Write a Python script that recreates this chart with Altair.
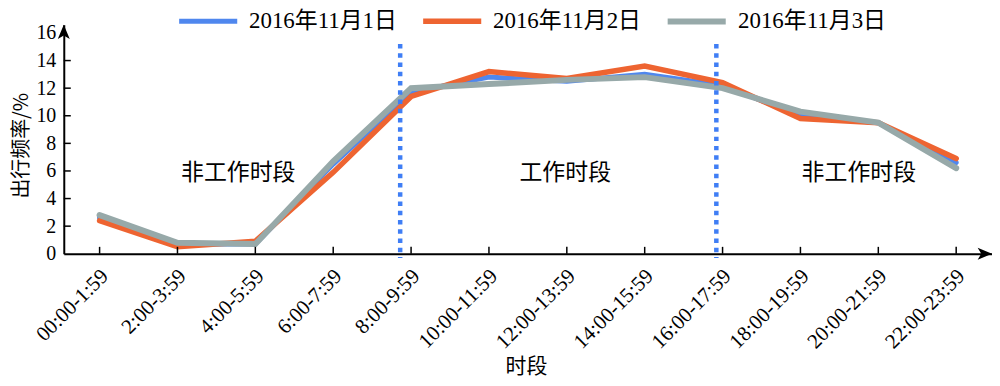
import altair as alt
import pandas as pd

slots = ["00:00-1:59", "2:00-3:59", "4:00-5:59", "6:00-7:59", "8:00-9:59", "10:00-11:59",
         "12:00-13:59", "14:00-15:59", "16:00-17:59", "18:00-19:59", "20:00-21:59", "22:00-23:59"]
series_names = ["2016年11月1日", "2016年11月2日", "2016年11月3日"]
nov1 = [2.6, 0.7, 0.7, 6.5, 11.7, 12.8, 12.5, 13.0, 12.2, 10.0, 9.5, 6.6]
nov2 = [2.4, 0.5, 0.9, 5.9, 11.4, 13.2, 12.7, 13.6, 12.4, 9.8, 9.5, 6.9]
nov3 = [2.8, 0.8, 0.7, 6.7, 12.0, 12.3, 12.6, 12.8, 12.0, 10.3, 9.5, 6.2]
colors = ["#4f87ee", "#ee6431", "#97a9a9"]
widths = [5, 6, 7]

y_ticks = [2, 4, 6, 8, 10, 12, 14]
y_labels = [0, 2, 4, 6, 8, 10, 12, 14, 16]
divider_x = [3.86, 7.92]
ann_text = ["非工作时段", "工作时段", "非工作时段"]
ann_x = [1.78, 5.98, 9.75]
ann_y = [5.85, 5.85, 5.85]

XMIN, XMAX = -0.46, 11.46
YMAX = 16.6
SERIF = "Liberation Serif, Noto Sans CJK SC"
CJK = "Noto Sans CJK SC"

rows = []
for name, vals in zip(series_names, [nov1, nov2, nov3]):
    for i, v in enumerate(vals):
        rows.append({"i": i, "v": v, "s": name})
df = pd.DataFrame(rows)

label_expr = "[" + ",".join("'%s'" % s for s in slots) + "][datum.value]"

xscale = alt.Scale(domain=[XMIN, XMAX], nice=False, zero=False)
yscale = alt.Scale(domain=[0, YMAX], nice=False)

x_axis = alt.Axis(values=list(range(12)), labelExpr=label_expr, labelAngle=315,
                  labelAlign="right", labelBaseline="middle", labelPadding=19, labelOffset=5,
                  labelFont=SERIF, labelFontSize=21, labelColor="black",
                  ticks=False, tickSize=0, grid=False, domainColor="black", domainWidth=2,
                  title="时段", titleFont=CJK, titleFontSize=21, titleFontWeight="normal",
                  titleColor="black", titleX=464, titleY=119, titleBaseline="alphabetic",
                  labelOverlap=False, labelBound=False, labelFlush=False)
y_axis = alt.Axis(values=y_labels, labelFont=SERIF, labelFontSize=20, labelColor="black",
                  labelPadding=8, ticks=False, tickSize=0, grid=False, domainColor="black",
                  domainWidth=2, title="出行频率/%", titleFont=CJK, titleFontSize=20,
                  titleFontWeight="normal", titleColor="black", titleAngle=270,
                  titleX=-42, titleY=121, titleAlign="center", titleBaseline="middle",
                  labelOverlap=False, labelFlush=False, labelBound=False)


def X(field):
    return alt.X(field, scale=xscale, axis=x_axis)


def Y(field):
    return alt.Y(field, scale=yscale, axis=y_axis)


lines = alt.Chart(df).mark_line(strokeCap="round").encode(
    x=X("i:Q"),
    y=Y("v:Q"),
    color=alt.Color("s:N", scale=alt.Scale(domain=series_names, range=colors),
                    legend=alt.Legend(title=None, orient="none", legendX=113, legendY=-36,
                                      direction="horizontal", symbolType="stroke",
                                      symbolSize=3400, symbolStrokeWidth=6,
                                      labelFont=SERIF, labelFontSize=23, labelColor="black",
                                      labelOffset=9, columnPadding=14, padding=0)),
    strokeWidth=alt.StrokeWidth("s:N", scale=alt.Scale(domain=series_names, range=widths),
                                legend=None),
    order=alt.Order("i:Q"),
)

xt = pd.DataFrame({"i": list(range(12))})
x_tick_marks = alt.Chart(xt).mark_rule(color="black", strokeWidth=1.5).encode(
    x=X("i:Q"),
    y=alt.YDatum(0, scale=yscale, axis=y_axis),
    y2=alt.Y2Datum(0.5))

yt = pd.DataFrame({"v": y_ticks})
y_tick_marks = alt.Chart(yt).mark_rule(color="black", strokeWidth=1.5).encode(
    y=Y("v:Q"),
    x=alt.XDatum(XMIN, scale=xscale, axis=x_axis),
    x2=alt.X2Datum(XMIN + 0.09))

dv = pd.DataFrame({"x": divider_x})
dividers = alt.Chart(dv).mark_rule(color="#3f7ef5", strokeWidth=4.5,
                                   strokeDash=[4.5, 4.8]).encode(
    x=X("x:Q"),
    y=alt.YDatum(15.2, scale=yscale, axis=y_axis),
    y2=alt.Y2Datum(-0.3))

ann = pd.DataFrame({"t": ann_text, "x": ann_x, "y": ann_y})
annotations = alt.Chart(ann).mark_text(font=CJK, fontSize=23, color="black").encode(
    x=X("x:Q"), y=Y("y:Q"), text="t:N")

arrow_up = alt.Chart(pd.DataFrame({"x": [XMIN], "y": [YMAX]})).mark_point(
    shape="M0,0L-0.5,1.2L0,0.9L0.5,1.2Z", size=576, filled=True, color="black", opacity=1
).encode(x=X("x:Q"), y=Y("y:Q"))

arrow_right = alt.Chart(pd.DataFrame({"x": [XMAX], "y": [0]})).mark_point(
    shape="M0,0L-1.2,-0.5L-0.9,0L-1.2,0.5Z", size=576, filled=True, color="black", opacity=1
).encode(x=X("x:Q"), y=Y("y:Q"))

chart = alt.layer(
    lines, dividers, x_tick_marks, y_tick_marks, annotations, arrow_up, arrow_right
).properties(
    width=932, height=230, autosize="none",
    padding={"left": 56, "top": 16, "right": 0, "bottom": 124},
    background="white",
).configure_view(stroke=None)

chart.save("out.html", embed_options={"renderer": "svg", "actions": False})
